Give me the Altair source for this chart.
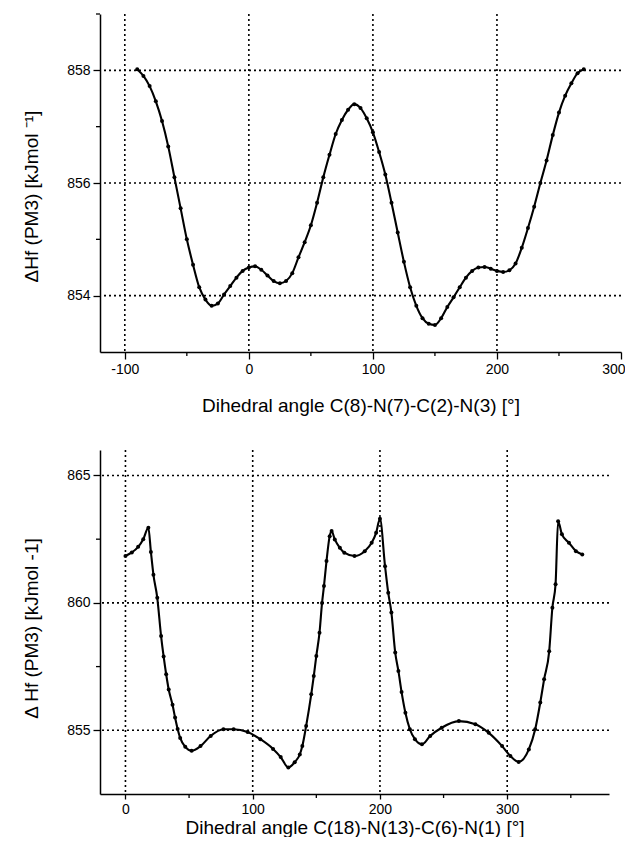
import altair as alt
import pandas as pd

# ---- data ----
top_angle = [-90, -85, -80, -75, -70, -65, -60, -55, -50, -45, -40, -35, -30, -25, -20, -15, -10, -5,
             0, 5, 10, 15, 20, 25, 30, 35, 40, 45, 50, 55, 60, 65, 70, 75, 80, 85, 90, 95, 100,
             105, 110, 115, 120, 125, 130, 135, 140, 145, 150, 155, 160, 165, 170, 175, 180, 185,
             190, 195, 200, 205, 210, 215, 220, 225, 230, 235, 240, 245, 250, 255, 260, 265, 270]
top_dh = [858.02, 857.9, 857.72, 857.45, 857.1, 856.65, 856.1, 855.55, 855.0, 854.55, 854.15, 853.93,
          853.82, 853.86, 854.02, 854.17, 854.32, 854.44, 854.5, 854.52, 854.46, 854.36, 854.26,
          854.22, 854.26, 854.4, 854.68, 854.95, 855.25, 855.65, 856.1, 856.5, 856.87, 857.12, 857.3,
          857.4, 857.33, 857.15, 856.9, 856.55, 856.15, 855.65, 855.12, 854.6, 854.15, 853.82, 853.6,
          853.5, 853.48, 853.6, 853.8, 853.97, 854.15, 854.32, 854.44, 854.5, 854.51, 854.48, 854.44,
          854.42, 854.45, 854.57, 854.85, 855.2, 855.58, 856.0, 856.4, 856.85, 857.25, 857.55,
          857.77, 857.95, 858.02]

bot_angle = [0, 5, 10, 14, 18, 20, 22, 25, 28, 30, 32, 34, 37, 39, 41, 43, 47, 52, 59, 67, 77, 85,
             96, 106, 116, 122, 128, 133, 137, 139, 142, 146, 148, 150, 152.5, 154.5, 156, 158, 160.5,
             162, 164.5, 168.5, 172, 180, 188, 193.5, 197, 200, 204, 206.5, 209, 212, 214.5, 217,
             220, 223.5, 227.5, 233, 239.5, 248.5, 262, 275, 285.5, 296, 302.5, 309, 317, 322, 326,
             329, 333, 335.5, 338, 340, 343, 348.5, 354, 359]
bot_dh = [861.84, 861.98, 862.2, 862.5, 862.95, 862.0, 861.1, 860.2, 858.7, 857.9, 857.2, 856.6,
          856.0, 855.5, 855.05, 854.7, 854.35, 854.2, 854.38, 854.78, 855.04, 855.04, 854.93,
          854.65, 854.27, 853.95, 853.54, 853.75, 854.05, 854.38, 855.17, 856.41, 857.13, 857.92,
          858.83, 860.0, 860.66, 861.64, 862.62, 862.82, 862.49, 862.16, 861.97, 861.84, 862.03,
          862.36, 862.75, 863.3, 861.44, 860.4, 859.62, 858.05, 857.33, 856.5, 855.69, 855.04,
          854.65, 854.45, 854.78, 855.1, 855.36, 855.24, 854.9, 854.38, 853.99, 853.76, 854.25,
          855.04, 856.09, 857.0, 858.1, 859.81, 860.73, 863.2, 862.69, 862.36, 862.03, 861.9]

top_x_major = [-100, 0, 100, 200, 300]
top_x_minor = [-50, 50, 150, 250]
top_x_grid = [-100, 0, 100, 200]
top_y_major = [854, 856, 858]
top_y_minor = [855, 857, 859]

bot_x_major = [0, 100, 200, 300]
bot_x_minor = [50, 150, 250, 350]
bot_x_grid = [0, 100, 200, 300]
bot_y_major = [855, 860, 865]
bot_y_minor = [857.5, 862.5]

FONT = "Liberation Sans"
DOT = [2, 3]


def panel(angles, values, xdom, ydom, xmajor, xminor, xgrid, ymajor, yminor,
          xtitle, ytitle, w, h, xtick, xlabpad, xtitlepad, ytitle_y):
    df = pd.DataFrame({"angle": angles, "dh": values})
    xscale = alt.Scale(domain=xdom, nice=False, zero=False)
    yscale = alt.Scale(domain=ydom, nice=False, zero=False)
    xaxis = alt.Axis(values=xmajor, title=xtitle, grid=False, format="d",
                     labelExpr="replace(datum.label, '\u2212', '-')",
                     tickSize=xtick, labelPadding=xlabpad, titlePadding=xtitlepad,
                     titleFontSize=19, labelFlush=True, labelFlushOffset=4)
    yaxis = alt.Axis(values=ymajor, title=ytitle, grid=False, format="d",
                     tickSize=7, labelPadding=3, titlePadding=25,
                     titleFontSize=19, titleY=ytitle_y)

    def X(f):
        return alt.X(f, type="quantitative", scale=xscale, axis=xaxis)

    def Y(f):
        return alt.Y(f, type="quantitative", scale=yscale, axis=yaxis)

    line = alt.Chart(df).mark_line(color="black", strokeWidth=2.1, interpolate="monotone").encode(
        x=X("angle"), y=Y("dh"))
    pts = alt.Chart(df).mark_circle(color="black", size=16, opacity=1).encode(
        x=X("angle"), y=Y("dh"))
    gx = alt.Chart(pd.DataFrame({"angle": xgrid})).mark_rule(
        color="black", strokeDash=DOT, strokeWidth=1.6).encode(x=X("angle"))
    gy = alt.Chart(pd.DataFrame({"dh": ymajor})).mark_rule(
        color="black", strokeDash=DOT, strokeWidth=1.6).encode(y=Y("dh"))
    mx = alt.Chart(pd.DataFrame({"angle": xminor})).mark_rule(color="black", strokeWidth=1.3).encode(
        x=X("angle"), y=alt.value(h), y2=alt.value(h + 4))
    my = alt.Chart(pd.DataFrame({"dh": yminor})).mark_rule(color="black", strokeWidth=1.3).encode(
        y=Y("dh"), x=alt.value(0), x2=alt.value(-4))
    return alt.layer(gx, gy, mx, my, line, pts).properties(width=w, height=h)


top = panel(top_angle, top_dh, [-120, 300], [853, 859], top_x_major, top_x_minor, top_x_grid,
            top_y_major, top_y_minor,
            "Dihedral angle C(8)-N(7)-C(2)-N(3) [°]", "ΔHf (PM3) [kJmol ⁻¹]",
            521, 338, 7, 3, 20, 182)
bottom = panel(bot_angle, bot_dh, [-20, 380], [852.5, 866], bot_x_major, bot_x_minor, bot_x_grid,
               bot_y_major, bot_y_minor,
               "Dihedral angle C(18)-N(13)-C(6)-N(1) [°]", "Δ Hf (PM3)  [kJmol -1]",
               509, 344, 5, 3, 2, 178)

chart = alt.vconcat(top, bottom, spacing=34).properties(
    padding={"left": 14, "top": 5, "right": 0, "bottom": 0}
).configure_view(stroke=None).configure_axis(
    domainColor="black", domainWidth=1.5, tickColor="black", tickWidth=1.3,
    labelFont=FONT, labelFontSize=14, labelColor="black",
    titleFont=FONT, titleFontWeight="normal", titleColor="black",
)

chart.save("out.html", embed_options={"renderer": "svg", "actions": False})
